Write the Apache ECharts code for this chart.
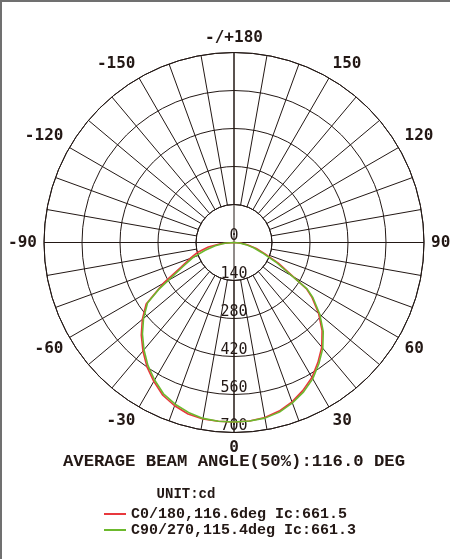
<!DOCTYPE html>
<html>
<head>
<meta charset="utf-8">
<script src="https://cdn.jsdelivr.net/npm/echarts@6/dist/echarts.min.js"></script>
<style>
html,body{margin:0;padding:0;background:#fff;}
#chart{width:450px;height:559px;}
</style>
</head>
<body>
<div id="chart"></div>
<script>
// Angle (deg) samples, 0 = straight down, + = right side, - = left side
const angleLabels = ['0','30','60','90','120','150','-/+180','-150','-120','-90','-60','-30'];
const radiusTicks = [0,140,280,420,560,700];

const redAngles  = [-90,-85,-80,-75,-70,-65,-60,-55,-50,-45,-40,-35,-30,-25,-20,-15,-10,-5,0,5,10,15,20,25,30,35,40,45,50,55,57.5,65,70,75,80,85,90];
const redValues  = [0,50,96,138,172,215,300,395,441,483,522,559,591,621,640,654,660,661,661.5,660,655,643,625,601,574,539,503,459,407,350,316,180,120,85,52,25,0];

const greenAngles = [-90,-85,-80,-75,-70,-65,-58,-55,-50,-45,-40,-35,-30,-25,-20,-15,-10,-5,0,5,10,15,20,25,30,35,40,45,50,55,57.5,65,70,75,80,85,90];
const greenValues = [0,35,70,110,160,205,328,389,435,477,516,553,585,615,634,648,658,661,661.3,660,657,647,629,607,580,545,509,465,413,355,320,170,110,75,45,20,0];

const seriesNames = ['C0/180,116.6deg Ic:661.5','C90/270,115.4deg Ic:661.3'];
const seriesColors = ['#e8383d','#6cb92d'];

const ink = '#231815';
function toAxisAngle(a){ return ((a % 360) + 360) % 360; }
function pairs(angles, values){ return angles.map((a,i)=>[values[i], toAxisAngle(a)]); }

const chart = echarts.init(document.getElementById('chart'), null, {renderer:'canvas'});
chart.setOption({
  animation:false,
  backgroundColor:'#fff',
  polar:[
    {center:[234,242.5], radius:[38,190]},
    {center:[234,242.5], radius:190}
  ],
  angleAxis:[
    {polarIndex:0, type:'value', min:0, max:360, interval:10, startAngle:270, clockwise:false,
     axisLine:{show:true, lineStyle:{color:ink, width:1}},
     axisTick:{show:false},
     splitLine:{show:true, lineStyle:{color:ink, width:1}},
     axisLabel:{show:true, margin:7, color:ink, fontFamily:'DejaVu Sans Mono', fontWeight:'bold', fontSize:16,
       formatter:function(v){ if(v%30!==0||v>=360) return ''; return angleLabels[v/30]; }}
    },
    {polarIndex:1, type:'value', min:0, max:360, interval:90, startAngle:270, clockwise:false,
     axisLine:{show:false}, axisTick:{show:false}, axisLabel:{show:false},
     splitLine:{show:true, lineStyle:{color:ink, width:1}}
    }
  ],
  radiusAxis:[
    {polarIndex:0, type:'value', min:0, max:700, axisLine:{show:false}, axisTick:{show:false}, axisLabel:{show:false}, splitLine:{show:false}},
    {polarIndex:1, type:'value', min:radiusTicks[0], max:radiusTicks[radiusTicks.length-1], interval:140,
     axisLine:{show:false}, axisTick:{show:false},
     splitLine:{show:true, lineStyle:{color:ink, width:1}},
     axisLabel:{show:true, margin:0, align:'center', verticalAlign:'bottom', lineHeight:13, color:ink, fontFamily:'DejaVu Sans Mono', fontSize:15, rotate:0}
    }
  ],
  legend:{
    orient:'vertical', left:104, top:506.5, padding:0, itemWidth:22, itemHeight:2, itemGap:1, icon:'rect',
    textStyle:{fontFamily:'Liberation Mono', fontWeight:'bold', fontSize:15, color:ink, lineHeight:15},
    data:seriesNames
  },
  series:[
    {name:seriesNames[0], type:'line', coordinateSystem:'polar', polarIndex:1, showSymbol:false, symbol:'none',
     lineStyle:{color:seriesColors[0], width:1.6}, itemStyle:{color:seriesColors[0]}, data:pairs(redAngles, redValues), z:3},
    {name:seriesNames[1], type:'line', coordinateSystem:'polar', polarIndex:1, showSymbol:false, symbol:'none',
     lineStyle:{color:seriesColors[1], width:1.6}, itemStyle:{color:seriesColors[1]}, data:pairs(greenAngles, greenValues), z:4}
  ],
  graphic:[
    {type:'rect', shape:{x:0,y:0,width:2,height:559}, style:{fill:'#707070'}},
    {type:'rect', shape:{x:0,y:0,width:450,height:2}, style:{fill:'#707070'}},
    {type:'text', x:234, y:462, style:{text:'AVERAGE BEAM ANGLE(50%):116.0 DEG', fill:ink, font:'bold 17.3px "Liberation Mono"', textAlign:'center', textVerticalAlign:'middle'}},
    {type:'text', x:186, y:494, style:{text:'UNIT:cd', fill:ink, font:'bold 14px "Liberation Mono"', textAlign:'center', textVerticalAlign:'middle'}}
  ]
});
</script>
</body>
</html>
